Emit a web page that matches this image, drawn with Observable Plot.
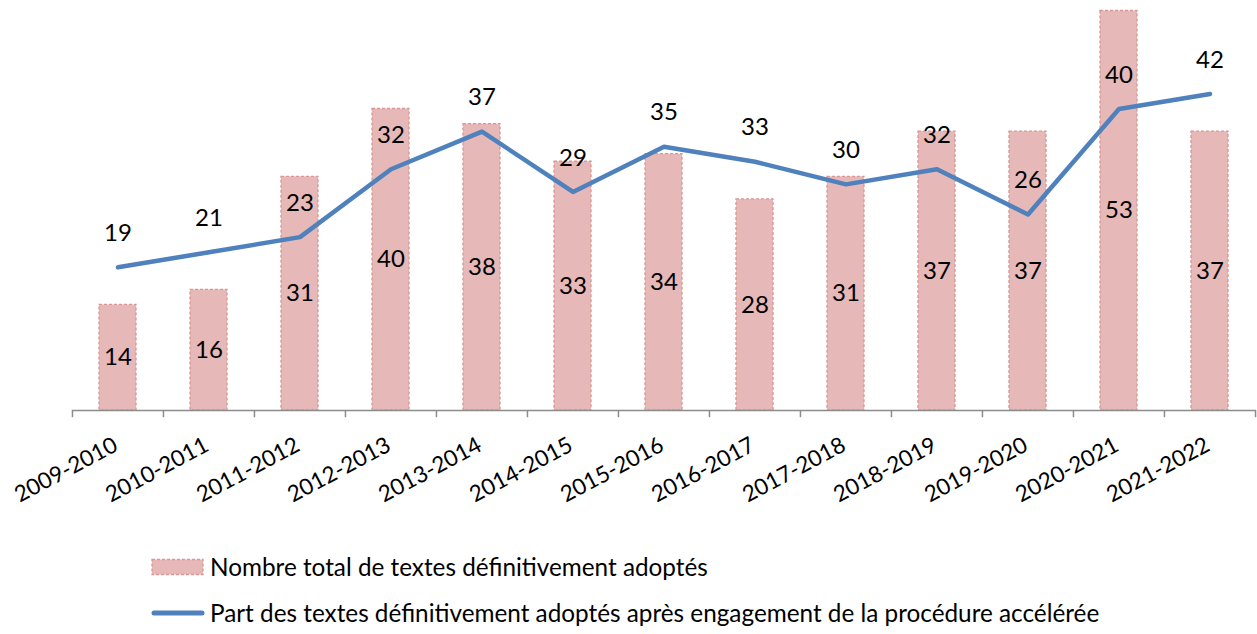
<!DOCTYPE html>
<html>
<head>
<meta charset="utf-8">
<script src="https://cdn.jsdelivr.net/npm/d3@7"></script>
<script src="https://cdn.jsdelivr.net/npm/@observablehq/plot@0.6"></script>
<style>
  html, body { margin: 0; padding: 0; background: #fff; }
  body { width: 1257px; height: 634px; overflow: hidden; font-family: Lato, "Open Sans", sans-serif; }
  #legend { position: absolute; left: 151px; top: 0; font-size: 24.3px; color: #000; }
  .item { position: absolute; left: 0; display: flex; align-items: center; white-space: nowrap; }
  .item svg { margin-right: 5px; }
</style>
</head>
<body>
<div id="chart"></div>
<div id="legend"></div>
<script>
const sessions = ["2009-2010","2010-2011","2011-2012","2012-2013","2013-2014","2014-2015","2015-2016","2016-2017","2017-2018","2018-2019","2019-2020","2020-2021","2021-2022"];
const totalTextes = [14,16,31,40,38,33,34,28,31,37,37,53,37];
const partAccelere = [19,21,23,32,37,29,35,33,30,32,26,40,42];
const seriesNames = ["Nombre total de textes définitivement adoptés", "Part des textes définitivement adoptés après engagement de la procédure accélérée"];

const data = sessions.map((s, i) => ({session: s, total: totalTextes[i], part: partAccelere[i]}));

const W = 1257, H = 545;
const mL = 72, mR = 1;
const step = (W - mL - mR) / sessions.length;
const barColor = "#e6b9b8", barStroke = "#d99694", lineColor = "#4f81bd", axisColor = "#8c8c8c";

const chart = Plot.plot({
  width: W,
  height: H,
  marginLeft: mL,
  marginRight: mR,
  marginTop: 10.5,
  marginBottom: H - 410,
  style: {fontFamily: "Lato, 'Open Sans', sans-serif", fontSize: "24px", color: "#000", background: "#fff"},
  x: {domain: sessions, paddingInner: 0.59, paddingOuter: 0.295, label: null, axis: null},
  y: {domain: [0, 53], axis: null},
  marks: [
    Plot.barY(data, {x: "session", y: "total", fill: barColor, stroke: barStroke, strokeWidth: 1.3, strokeDasharray: "3,2"}),
    Plot.ruleY([0], {stroke: axisColor, strokeWidth: 1.5}),
    Plot.ruleX(data, {x: "session", y1: 0, y2: -0.95, dx: -step / 2, stroke: axisColor, strokeWidth: 1.5}),
    Plot.ruleX(data.slice(-1), {x: "session", y1: 0, y2: -0.95, dx: step / 2, stroke: axisColor, strokeWidth: 1.5}),
    Plot.axisX({tickRotate: -28, tickSize: 0, tickPadding: 33, dx: -2, label: null, fontSize: 22.5, fill: "#000"}),
    Plot.line(data, {x: "session", y: "part", stroke: lineColor, strokeWidth: 4.5, strokeLinejoin: "round", strokeLinecap: "round"}),
    Plot.text(data, {x: "session", y: d => d.total / 2, text: d => String(d.total), fill: "#000", fontSize: 24}),
    Plot.text(data, {x: "session", y: "part", text: d => String(d.part), dy: -34, fill: "#000", fontSize: 24})
  ]
});
document.getElementById("chart").appendChild(chart);

const legend = document.getElementById("legend");
const items = [
  {top: 552, swatch: `<svg width="54" height="18"><rect x="1" y="1.5" width="51" height="15" fill="${barColor}" stroke="${barStroke}" stroke-width="1.3" stroke-dasharray="3,2"/></svg>`, label: seriesNames[0]},
  {top: 598, swatch: `<svg width="54" height="18"><line x1="3" y1="9" x2="51" y2="9" stroke="${lineColor}" stroke-width="5" stroke-linecap="round"/></svg>`, label: seriesNames[1]}
];
items.forEach(it => {
  const div = document.createElement("div");
  div.className = "item";
  div.style.top = it.top + "px";
  div.innerHTML = it.swatch;
  const span = document.createElement("span");
  span.textContent = it.label;
  div.appendChild(span);
  legend.appendChild(div);
});
</script>
</body>
</html>
